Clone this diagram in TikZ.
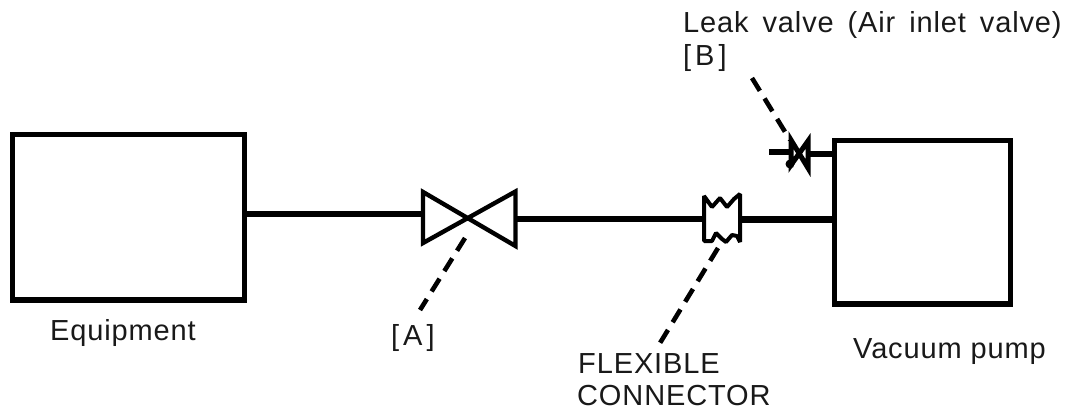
\documentclass[tikz,border=0pt]{standalone}
\usepackage{fontspec}
\setmainfont[LetterSpace=3]{Liberation Sans}
\begin{document}
\begin{tikzpicture}[x=1pt,y=-1pt,
  box/.style={draw=black,line width=5.5pt,inner sep=0pt,outer sep=0pt,anchor=north west},
  pipe/.style={line width=5.5pt},
  thickpipe/.style={line width=7.5pt},
  leader/.style={line width=4.6pt,dash pattern=on 15pt off 9pt},
  valveline/.style={line width=4.4pt,line join=miter},
  lbl/.style={font=\fontsize{29}{34}\selectfont,inner sep=0pt,text=black!90,anchor=base west}]
\useasboundingbox (0,0) rectangle (1068,410);
\node[box,minimum width=232pt,minimum height=165.5pt] (eq) at (12.5,134.5) {};
\node[box,minimum width=176pt,minimum height=163.5pt] (pump) at (834.5,140.5) {};
% gate valve A
\coordinate (al) at (423,214);
\coordinate (ar) at (515.5,219);
\draw[valveline] (423,192) -- (423,243) -- (515.5,191.5) -- (515.5,246) -- cycle;
\draw[pipe] (eq.east |- al) -- (al);
% flexible connector
\coordinate (fl) at (704,219);
\coordinate (fr) at (740,219.5);
\draw[pipe] (ar) -- (fl);
\draw[line width=4pt,line join=bevel] (704,196) -- (704,241) -- (712,241) -- (716,233) -- (722,239) -- (726,242) -- (732,235) -- (737,236) -- (740,242) -- (740,194) -- (734,199) -- (727,207) -- (720,198) -- (712,207) -- cycle;
\draw[thickpipe] (fr) -- (pump.west |- fr);
% leak valve B
\coordinate (bl) at (769,152);
\coordinate (blv) at (790,152);
\coordinate (brv) at (810,154);
\draw[pipe] (bl) -- (blv) (brv) -- (pump.west |- brv);
\draw[line width=5pt,line join=miter] (791,140) -- (791,165) -- (808,141) -- (808,168) -- cycle;
\node[circle,fill=black,minimum size=9pt,inner sep=0pt] (bd) at (790,164) {};
% labels
\node[lbl] (leq) at (50,340) {Equipment};
\node[lbl] (lpump) at (853,358) {Vacuum pump};
\node[lbl] (la) at (391,345) {[\kern4pt A\kern4pt]};
\node[lbl] (lf1) at (578,373) {FLEXIBLE};
\node[lbl] (lf2) at (577,405) {CONNECTOR};
\node[lbl] (lb1) at (683,32) {Leak\hspace{5pt} valve\hspace{5pt} (Air\hspace{5pt} inlet\hspace{5pt} valve)};
\node[lbl] (lb2) at (683,65) {[\kern4pt B\kern4pt]};
% leaders
\coordinate (ae) at (465,238);
\coordinate (as) at (420,310);
\draw[leader] (ae) -- (as);
\coordinate (fe) at (718,248);
\coordinate (fs) at (660,343);
\draw[leader] (fe) -- (fs);
\coordinate (be) at (790,140);
\coordinate (bs) at (752,78);
\draw[leader] (bs) -- (be);
\end{tikzpicture}
\end{document}
